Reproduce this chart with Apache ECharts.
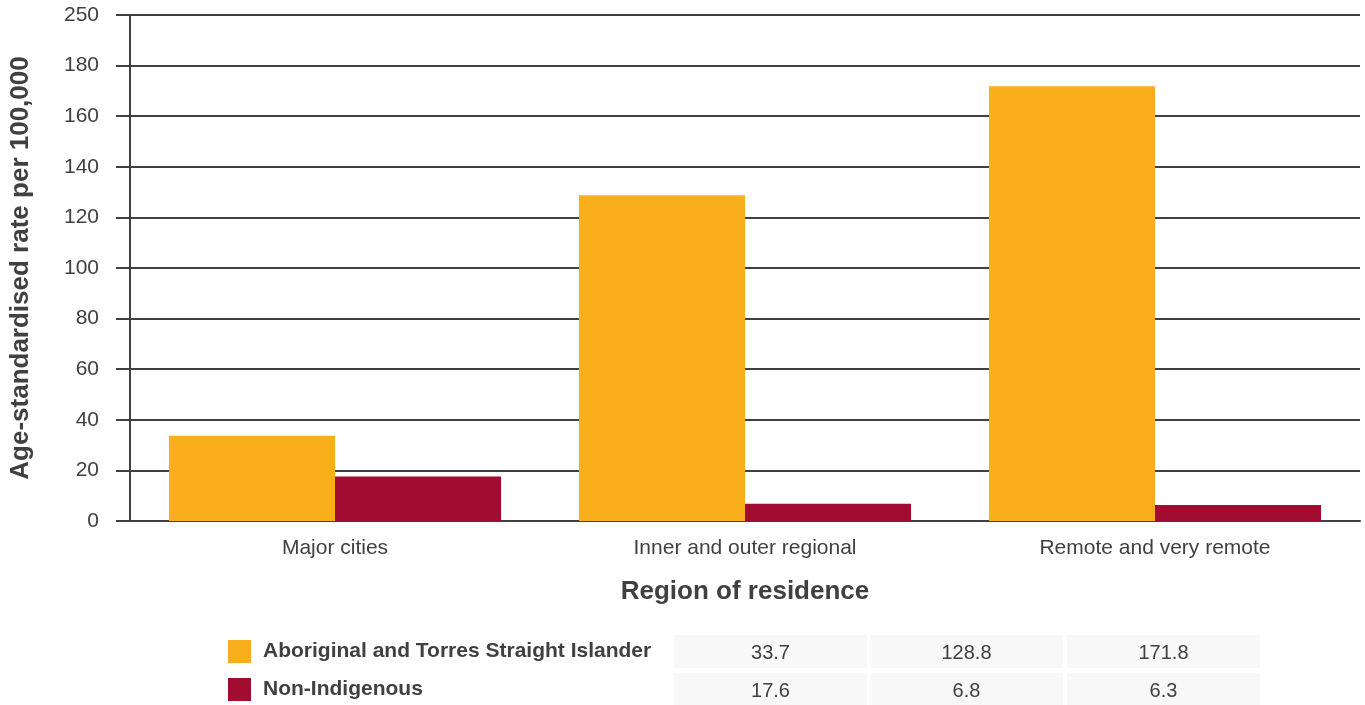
<!DOCTYPE html>
<html><head><meta charset="utf-8">
<script src="https://cdn.jsdelivr.net/npm/echarts@6/dist/echarts.min.js"></script>
<style>html,body{margin:0;padding:0;background:#fff}#c{width:1365px;height:705px}</style>
</head><body><div id="c"></div>
<script>
var categories = ['Major cities', 'Inner and outer regional', 'Remote and very remote'];
var seriesNames = ['Aboriginal and Torres Straight Islander', 'Non-Indigenous'];
var indigenous = [33.7, 128.8, 171.8];
var nonIndigenous = [17.6, 6.8, 6.3];
var yTickLabels = ['0', '20', '40', '60', '80', '100', '120', '140', '160', '180', '250'];
var colors = ['#F9AE1B', '#A20C31'];
var FONT = '"Liberation Sans", Arial, sans-serif';
var TXT = '#404040';

var chart = echarts.init(document.getElementById('c'));

// data table beneath the chart, built from the arrays
var colX = [674, 870, 1067];
var colW = 193;
var rowY = [635, 673];
var rowH = 33;
var rows = [indigenous, nonIndigenous];
var graphics = [];
rows.forEach(function (vals, r) {
  vals.forEach(function (v, c) {
    graphics.push({
      type: 'rect', left: colX[c], top: rowY[r],
      shape: { width: colW, height: rowH },
      style: { fill: '#F8F8F8' }, silent: true
    });
    graphics.push({
      type: 'text', x: colX[c] + colW / 2, y: rowY[r] + rowH / 2 + 2,
      style: { text: v.toFixed(1), font: '20px ' + FONT, fill: TXT, align: 'center', verticalAlign: 'middle' },
      silent: true
    });
  });
});

chart.setOption({
  animation: false,
  textStyle: { fontFamily: FONT },
  grid: { left: 129, right: 5, top: 15, bottom: 184, containLabel: false },
  legend: {
    orient: 'vertical', left: 228, top: 640, padding: 0,
    itemWidth: 23, itemHeight: 23, itemGap: 15,
    icon: 'rect',
    textStyle: { fontFamily: FONT, fontSize: 21, fontWeight: 'bold', color: TXT, padding: [6, 0, 0, 7] },
    data: seriesNames
  },
  xAxis: {
    type: 'category', data: categories,
    name: 'Region of residence', nameLocation: 'middle', nameGap: 58,
    nameTextStyle: { fontFamily: FONT, fontSize: 26, fontWeight: 'bold', color: TXT },
    axisLine: { lineStyle: { color: '#404040', width: 2 } },
    axisTick: { show: false },
    axisLabel: { fontFamily: FONT, fontSize: 21, color: TXT, margin: 17 }
  },
  yAxis: {
    type: 'value', min: 0, max: 200, interval: 20,
    name: 'Age-standardised rate per 100,000', nameLocation: 'middle', nameGap: 96,
    nameTextStyle: { fontFamily: FONT, fontSize: 26, fontWeight: 'bold', color: TXT },
    axisLine: { show: true, lineStyle: { color: '#404040', width: 2 } },
    axisTick: { show: true, length: 14, lineStyle: { color: '#404040', width: 2 } },
    axisLabel: {
      fontFamily: FONT, fontSize: 21, color: TXT, margin: 31, padding: [5, 0, 0, 0],
      formatter: function (v) { return yTickLabels[Math.round(v / 20)]; }
    },
    splitLine: { lineStyle: { color: '#404040', width: 2 } }
  },
  series: [
    { name: seriesNames[0], type: 'bar', data: indigenous, itemStyle: { color: colors[0] }, barGap: '0%', barCategoryGap: '19%' },
    { name: seriesNames[1], type: 'bar', data: nonIndigenous, itemStyle: { color: colors[1] }, barGap: '0%', barCategoryGap: '19%' }
  ],
  graphic: graphics
});
</script></body></html>
